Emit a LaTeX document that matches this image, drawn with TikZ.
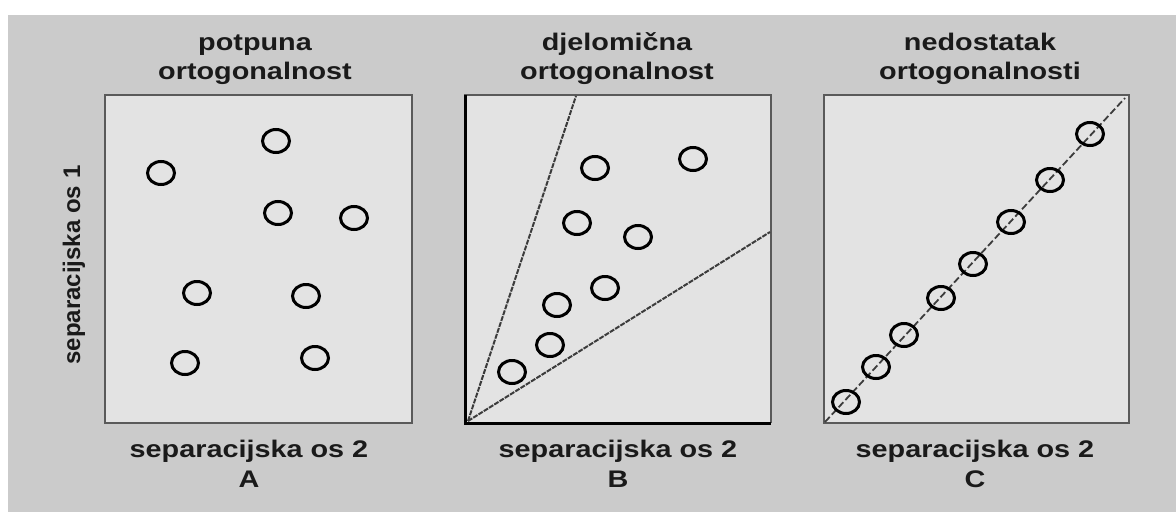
\documentclass[tikz,border=0pt]{standalone}
\usepackage{fontspec}
\usepackage{graphicx}
\setmainfont{Liberation Sans}
\newfontfamily\bfont{Liberation Sans Bold}[FakeStretch=1.2]
\newfontfamily\yfont{Liberation Sans Bold}
\newcommand{\wideline}[1]{\scalebox{1.2}[1]{#1}}
\definecolor{outerbg}{HTML}{CBCBCB}
\definecolor{panelbg}{HTML}{E3E3E3}
\definecolor{frame}{HTML}{5A5A5A}
\definecolor{txt}{HTML}{1A1A1A}
\definecolor{sepline}{HTML}{3C3C3C}
\tikzset{
  panel/.style={draw=frame, line width=2.2pt, fill=panelbg},
  pt/.style={draw=black, line width=3pt, ellipse, minimum width=27pt, minimum height=23pt, inner sep=0pt},
  ttl/.style={anchor=base, align=center, text=txt, inner sep=0pt, font={\yfont\fontsize{24}{29}\selectfont}},
  xlab/.style={anchor=base, align=center, text=txt, inner sep=0pt, font={\bfont\fontsize{24}{30}\selectfont}},
  ylab/.style={rotate=90, text=txt, inner sep=0pt, font={\yfont\fontsize{24}{28}\selectfont}},
  wedge/.style={draw=sepline, line width=2pt, dash pattern=on 5pt off 1.2pt},
  diag/.style={draw=sepline, line width=1.8pt, dash pattern=on 7pt off 3pt},
}
\usetikzlibrary{shapes.geometric}
\begin{document}
\begin{tikzpicture}[x=1pt,y=-1pt]
\useasboundingbox (0,0) rectangle (1176,512);
\fill[white] (0,0) rectangle (1176,512);
\fill[outerbg] (8,15) rectangle (1176,512);

% panels
\draw[panel] (105,95) rectangle (412,423);
\fill[panelbg] (465,95) rectangle (771,423);
\draw[frame, line width=2.2pt] (465,423) -- (465,95) -- (771,95) -- (771,423);
\draw[black, line width=3pt] (465,95) -- (465,423) -- (771,423);
\draw[panel] (824,95) rectangle (1129,423);

% titles
\node[ttl] (tA) at (255,79) {\wideline{potpuna}\\\wideline{ortogonalnost}};
\node[ttl] (tB) at (617,79) {\wideline{djelomična}\\\wideline{ortogonalnost}};
\node[ttl] (tC) at (980,79) {\wideline{nedostatak}\\\wideline{ortogonalnosti}};

% axis labels
\node[xlab] (xA) at (249,487) {separacijska os 2\\A};
\node[xlab] (xB) at (618,487) {separacijska os 2\\B};
\node[xlab] (xC) at (975,487) {separacijska os 2\\C};
\node[ylab] (yA) at (74,265) {separacijska os 1};

% panel A points
\foreach \n/\x/\y in {a1/161/173, a2/276/141, a3/278/213, a4/354/218, a5/197/293, a6/306/296, a7/185/363, a8/315/358}
  \node[pt] (\n) at (\x,\y) {};

% panel B wedge
\coordinate (oB) at (468,421);
\coordinate (bt) at (576,96);
\coordinate (br) at (770,232);
\draw[wedge] (oB) -- (bt);
\draw[wedge] (oB) -- (br);
\foreach \n/\x/\y in {b1/595/168, b2/693/159, b3/577/223, b4/638/237, b5/605/288, b6/557/305, b7/550/345, b8/512/372}
  \node[pt] (\n) at (\x,\y) {};

% panel C diagonal
\coordinate (oC) at (825,422);
\coordinate (eC) at (1125,98);
\draw[diag] (oC) -- (eC);
\foreach \n/\x/\y in {c1/846/402, c2/876/367, c3/904/335, c4/941/298, c5/973/264, c6/1011/222, c7/1050/180, c8/1090/134}
  \node[pt] (\n) at (\x,\y) {};
\end{tikzpicture}
\end{document}
